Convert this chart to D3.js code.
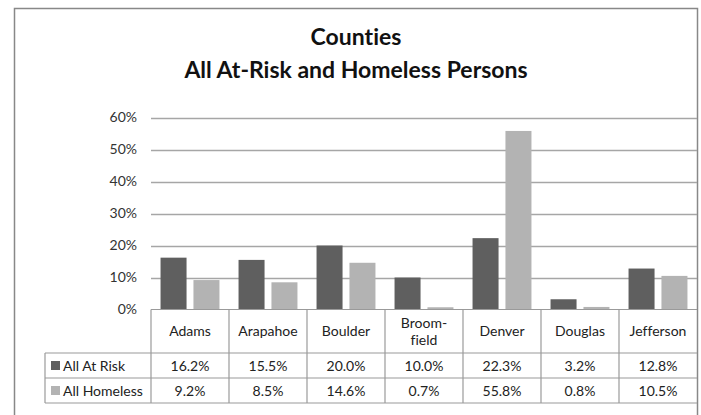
<!DOCTYPE html>
<html><head><meta charset="utf-8">
<script src="https://cdn.jsdelivr.net/npm/d3@7"></script>
<style>body{margin:0;background:#fff}svg{display:block}text{font-variant-ligatures:none;font-feature-settings:"liga" 0}</style>
</head><body>
<script>
const categories = ["Adams","Arapahoe","Boulder","Broom-\nfield","Denver","Douglas","Jefferson"];
const seriesNames = ["All At Risk","All Homeless"];
const atRisk = [16.2,15.5,20.0,10.0,22.3,3.2,12.8];
const homeless = [9.2,8.5,14.6,0.7,55.8,0.8,10.5];
const yTicks = [0,10,20,30,40,50,60];
const colors = ["#5f5f5f","#b3b3b3"];
const series = [atRisk, homeless];

const W=701,H=415;
const svg=d3.select("body").append("svg").attr("width",W).attr("height",H);
const font="Lato, 'Open Sans', sans-serif";

// outer border
svg.append("rect").attr("x",14.5).attr("y",8.5).attr("width",683).attr("height",420)
  .attr("fill","none").attr("stroke","#888").attr("stroke-width",1.5);

// title
svg.append("text").attr("x",356).attr("y",45).attr("text-anchor","middle")
  .attr("font-family",font).attr("font-weight","bold").attr("font-size",23).attr("fill","#111").text("Counties");
svg.append("text").attr("x",356).attr("y",78).attr("text-anchor","middle")
  .attr("font-family",font).attr("font-weight","bold").attr("font-size",23).attr("fill","#111").text("All At-Risk and Homeless Persons");

const x0=d3.scaleBand().domain(categories).range([151,697]);
const x1=d3.scaleBand().domain(seriesNames).range([0,x0.bandwidth()]).paddingInner(0.21).paddingOuter(0.29);
const y=d3.scaleLinear().domain([0,60]).range([309.5,117.5]);

// gridlines
svg.append("g").selectAll("line").data(yTicks.slice(1)).join("line")
  .attr("x1",151).attr("x2",697).attr("y1",d=>Math.round(y(d))+0.5).attr("y2",d=>Math.round(y(d))+0.5)
  .attr("stroke","#a6a6a6").attr("stroke-width",1.5);

// y axis labels
const yAxis=d3.axisLeft(y).tickValues(yTicks).tickFormat(d=>d+"%").tickSize(0).tickPadding(14);
const ga=svg.append("g").attr("transform","translate(151,0)").call(yAxis);
ga.select(".domain").remove();
ga.selectAll("text").attr("font-family",font).attr("font-size",14).attr("fill","#333");

// bars
const gc=svg.append("g").selectAll("g").data(categories).join("g").attr("transform",d=>`translate(${x0(d)},0)`);
gc.selectAll("rect").data((d,i)=>seriesNames.map((s,j)=>({s,v:series[j][i],j}))).join("rect")
  .attr("x",d=>x1(d.s)).attr("width",x1.bandwidth())
  .attr("y",d=>y(d.v)).attr("height",d=>y(0)-y(d.v)).attr("fill",d=>colors[d.j]);

// table
const tLeft=45, hTop=309.5, hBot=353, r1=378, r2=403;
const lc="#9a9a9a";
const tg=svg.append("g");
tg.append("line").attr("x1",151).attr("x2",697).attr("y1",hTop).attr("y2",hTop).attr("stroke",lc).attr("stroke-width",1.2);
[hBot,r1,r2].forEach(yy=>tg.append("line").attr("x1",tLeft).attr("x2",697).attr("y1",yy).attr("y2",yy).attr("stroke",lc).attr("stroke-width",1.2));
tg.append("line").attr("x1",tLeft).attr("x2",tLeft).attr("y1",hBot).attr("y2",r2).attr("stroke",lc).attr("stroke-width",1.2);
categories.forEach(c=>tg.append("line").attr("x1",x0(c)).attr("x2",x0(c)).attr("y1",hTop).attr("y2",r2).attr("stroke",lc).attr("stroke-width",1.2));

// header labels
categories.forEach(c=>{
  const lines=c.split("\n");
  const cx=x0(c)+x0.bandwidth()/2;
  const cy=(hTop+hBot)/2;
  const t=tg.append("text").attr("text-anchor","middle").attr("font-family",font).attr("font-size",14).attr("fill","#222");
  lines.forEach((l,k)=>{
    t.append("tspan").attr("x",cx).attr("y",cy+5+(k-(lines.length-1)/2)*17).text(l);
  });
});
// rows
const rowY=[(hBot+r1)/2,(r1+r2)/2];
seriesNames.forEach((s,j)=>{
  tg.append("rect").attr("x",51).attr("y",rowY[j]-4.5).attr("width",9).attr("height",9).attr("fill",colors[j]);
  tg.append("text").attr("x",63).attr("y",rowY[j]+5).attr("font-family",font).attr("font-size",14).attr("fill","#222").text(s);
  categories.forEach((c,i)=>{
    tg.append("text").attr("x",x0(c)+x0.bandwidth()/2).attr("y",rowY[j]+5).attr("text-anchor","middle")
      .attr("font-family",font).attr("font-size",14).attr("fill","#222").text(series[j][i].toFixed(1)+"%");
  });
});
</script>
</body></html>
